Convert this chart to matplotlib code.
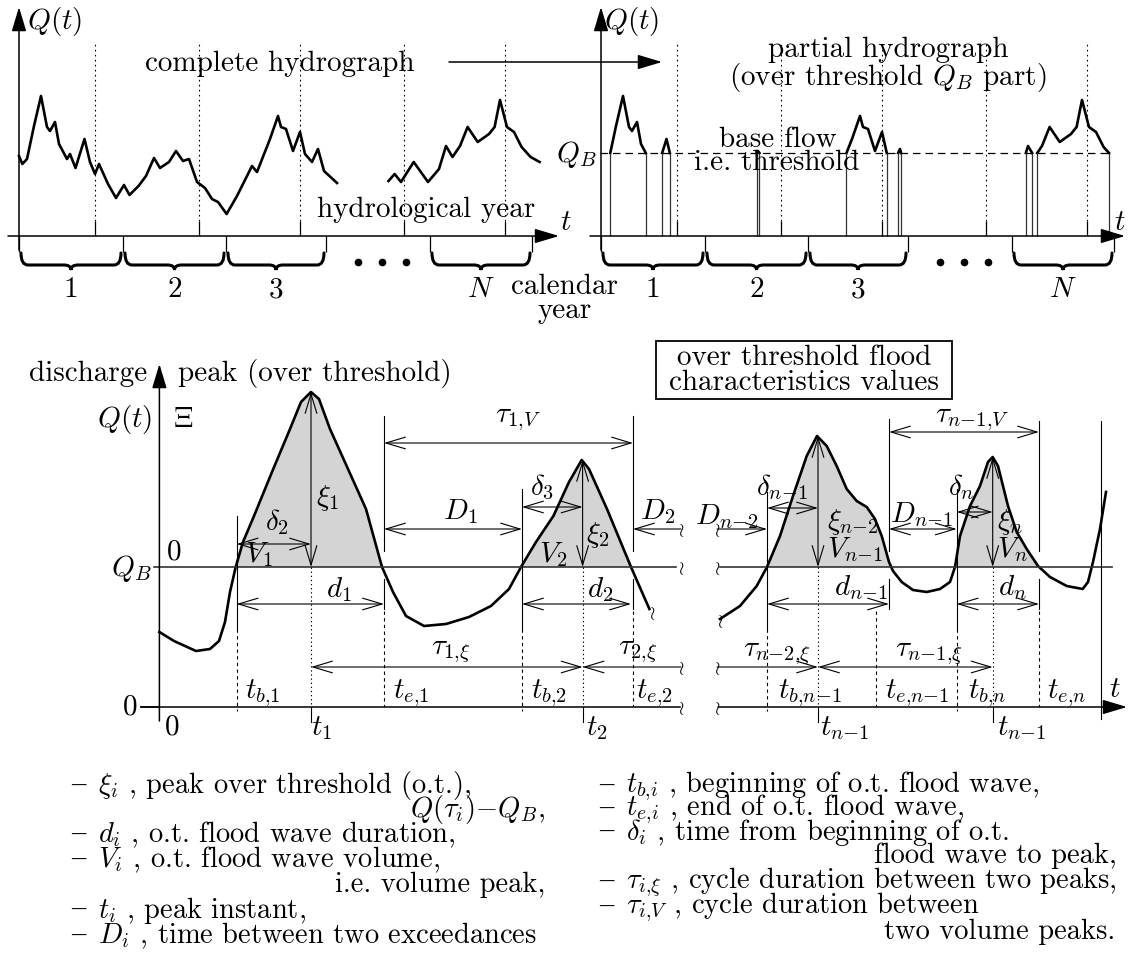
import numpy as np
import matplotlib.pyplot as plt
from matplotlib.path import Path
from matplotlib.patches import PathPatch, Rectangle

plt.rcParams['font.family'] = ['cmr10', 'DejaVu Serif']
plt.rcParams['mathtext.fontset'] = 'cm'
plt.rcParams['axes.unicode_minus'] = False

# complete hydrograph (top panels), two recorded stretches: time, discharge
hyd1_t = [0, 3.3, 8, 15, 22, 28, 31, 36, 40, 48, 51, 56.5, 65.5, 71, 76, 80, 89, 97, 105, 110.5,
          119.5, 127, 135, 141, 150, 157, 164, 170, 178, 186, 193, 199, 207.6, 218, 233, 238, 251,
          259, 262, 267, 274, 281, 286, 293, 299, 305, 318]
hyd1_q = [80, 72, 77, 110, 140, 109, 105, 114, 92, 77, 82, 68, 97, 74, 62, 72, 52, 38, 51, 41,
          50, 60, 78, 68, 74, 85, 75, 77, 54, 48, 37, 34, 22, 40, 70, 64, 97,
          120, 109, 107, 85, 104, 82, 74, 87, 65, 53]
hyd2_t = [369.5, 375.6, 382, 394.7, 409, 420, 427, 433.5, 441, 448.6, 458.7, 470, 475.6, 481,
          488, 495, 502.6, 511.6, 520.6]
hyd2_q = [55, 62, 54, 74, 54, 67, 90, 79, 90, 109, 94, 102, 109, 136, 109, 104, 89, 79, 74]
q_base_top = 83

hydro_year_t = [76, 180, 281, 385, 486]
calendar_year_t = [0, 104, 207, 307, 411, 513]
year_labels = ['1', '2', '3', '$N$']
year_slot = [0, 1, 2, 4]
dots_t = [339, 363, 387]

# detailed flood waves (bottom panel): time, discharge
wave1_t = [0, 14.6, 36.6, 50.6, 59.6, 65.6, 70.6, 76.3, 83.6, 94.6, 112.6, 130.6, 141.6, 151.6,
           159.6, 170.6, 188.6, 206.6, 222.6, 233.6, 246.6, 264.6, 286.6, 309.6, 331.6, 349.6,
           361.6, 376.6, 394, 409.6, 422.3, 429.6, 447.6, 471.6, 481.2, 490]
wave1_q = [75, 66, 56, 58, 66, 85, 115, 140, 165, 191, 235, 278, 305, 315,
           308, 278, 238, 198, 140, 115, 91, 81, 83, 90, 101, 118,
           140, 165, 191, 225, 247, 238, 198, 140, 118, 98]
wave2_t = [560.6, 580.6, 597.3, 607.6, 620.6, 633.6, 647.3, 657.6, 667.3, 677.3, 687.3, 697.3,
           707.3, 715.6, 722.3, 729.6, 733.6, 742.3, 753.6, 767.3, 780.6, 790.6, 795.6, 800.6,
           810.6, 820.6, 828.6, 833.3, 838.6, 848.6, 857.3, 867.3, 878.6, 890.6, 907.3, 923.3,
           928.6, 933.6, 940.6, 946.6]
wave2_q = [88, 101, 121, 140, 171, 211, 251, 271, 261, 241, 218, 206,
           200, 188, 171, 145, 136, 125, 117, 115, 118, 125, 140, 171,
           201, 221, 245, 250, 241, 201, 175, 158, 141, 130, 121, 118,
           125, 145, 178, 215]
q_base = 140
last_wave_end = 900  # shading stops after the n-th wave

FS = 21
LW_CURVE = 1.9
LW_THIN = 0.8

fig = plt.figure(figsize=(11.28, 9.78), dpi=100)
ax_tl = fig.add_axes([0, 0, 1, 1], label='tl')
ax_tr = fig.add_axes([0, 0, 1, 1], label='tr')
ax_b = fig.add_axes([0, 0, 1, 1], label='b')
ax = fig.add_axes([0, 0, 1, 1], label='overlay')
ax.set_xlim(0, 1128)
ax.set_ylim(978, 0)
for a, (x0, y0) in zip((ax_tl, ax_tr, ax_b), ((19, 237), (601, 237), (159.4, 708))):
    a.set_xlim(-x0, 1128 - x0)
    a.set_ylim(y0 - 978, y0)
for a in (ax_tl, ax_tr, ax_b, ax):
    a.axis('off')
    a.patch.set_alpha(0)

filled = dict(arrowstyle='-|>,head_length=1.5,head_width=0.45', mutation_scale=10,
              lw=1.1, color='k', shrinkA=0, shrinkB=0)


def open_arrow(a, x0, y0, x1, y1, style='<->'):
    a.annotate('', xy=(x1, y1), xytext=(x0, y0),
               arrowprops=dict(arrowstyle=style + ',head_length=1.4,head_width=0.42',
                               mutation_scale=10, lw=LW_THIN, color='k',
                               shrinkA=0, shrinkB=0))


def brace_patch(x0, x1, y, hm=-12, h=-17, r=7):
    xm = (x0 + x1) / 2
    verts = [(x0, y), (x0, y + hm), (x0 + r, y + hm), (xm - r, y + hm), (xm, y + hm),
             (xm, y + h), (xm, y + hm), (xm + r, y + hm), (x1 - r, y + hm), (x1, y + hm),
             (x1, y)]
    codes = [Path.MOVETO, Path.CURVE3, Path.CURVE3, Path.LINETO, Path.CURVE3, Path.CURVE3,
             Path.CURVE3, Path.CURVE3, Path.LINETO, Path.CURVE3, Path.CURVE3]
    return PathPatch(Path(verts, codes), fill=False, lw=2.2, color='k', capstyle='round')


def over_threshold(t, q, thr):
    pieces, cur = [], []
    for i in range(len(t)):
        if q[i] > thr:
            if not cur and i > 0:
                f = (thr - q[i - 1]) / (q[i] - q[i - 1])
                cur.append((t[i - 1] + f * (t[i] - t[i - 1]), thr))
            cur.append((t[i], q[i]))
        elif cur:
            f = (thr - q[i - 1]) / (q[i] - q[i - 1])
            cur.append((t[i - 1] + f * (t[i] - t[i - 1]), thr))
            pieces.append(np.array(cur))
            cur = []
    if cur:
        pieces.append(np.array(cur))
    return pieces


# ---- top panels: axes, year ticks, braces
for a, xend in ((ax_tl, 540), (ax_tr, 524)):
    a.annotate('', xy=(0, 229), xytext=(0, -14), arrowprops=filled)
    a.annotate('', xy=(xend, 0), xytext=(-11, 0), arrowprops=filled)
    a.vlines(calendar_year_t, -16, 0, color='k', lw=0.9)
    a.vlines(hydro_year_t, 15, 194, color='k', lw=0.8, linestyles=(0, (1.5, 3)))
    a.vlines(hydro_year_t, 0, 15, color='k', lw=0.9)
    for i, lab in zip(year_slot, year_labels):
        a.add_patch(brace_patch(calendar_year_t[i] + 2, calendar_year_t[i + 1] - 2, -17))
        a.text((calendar_year_t[i] + calendar_year_t[i + 1]) / 2, -53, lab,
               ha='center', va='center', fontsize=FS)
    a.plot(dots_t, [-26] * 3, 'o', color='k', ms=4.5)

ax_tl.plot(hyd1_t, hyd1_q, color='k', lw=LW_CURVE, solid_joinstyle='round')
ax_tl.plot(hyd2_t, hyd2_q, color='k', lw=LW_CURVE, solid_joinstyle='round')

ax_tr.plot([-1, 510], [q_base_top] * 2, color='k', lw=0.9, dashes=(6, 4))
for t, q in ((hyd1_t, hyd1_q), (hyd2_t, hyd2_q)):
    for p in over_threshold(t, q, q_base_top):
        ax_tr.plot(p[:, 0], p[:, 1], color='k', lw=LW_CURVE, solid_joinstyle='round')
        ax_tr.vlines([p[0, 0], p[-1, 0]], 0, q_base_top, color='#333333', lw=0.9)

ax.text(27, 22, '$Q(t)$', ha='left', va='center', fontsize=FS)
ax.text(604, 22, '$Q(t)$', ha='left', va='center', fontsize=FS)
ax.text(566, 223, '$t$', ha='center', va='center', fontsize=FS)
ax.text(1120, 223, '$t$', ha='center', va='center', fontsize=FS)
ax.text(145, 64, 'complete hydrograph', ha='left', va='center', fontsize=FS)
ax.annotate('', xy=(662, 63), xytext=(449, 63), arrowprops=filled)
ax.text(317, 210, 'hydrological year', ha='left', va='center', fontsize=FS)
ax.text(565, 287, 'calendar', ha='center', va='center', fontsize=FS)
ax.text(565, 311, 'year', ha='center', va='center', fontsize=FS)
ax.text(597, 155, '$Q_B$', ha='right', va='center', fontsize=FS)
ax.text(888, 50, 'partial hydrograph', ha='center', va='center', fontsize=FS)
ax.text(888, 78, '(over threshold $Q_B$ part)', ha='center', va='center', fontsize=FS)
ax.text(778, 140, 'base flow', ha='center', va='center', fontsize=FS)
ax.text(777, 163, 'i.e. threshold', ha='center', va='center', fontsize=FS)

# ---- bottom panel
w1t, w1q = np.array(wave1_t), np.array(wave1_q)
w2t, w2q = np.array(wave2_t), np.array(wave2_q)
ax_b.fill_between(w1t, w1q, q_base, where=w1q >= q_base, interpolate=True,
                  color='#d4d4d4', lw=0)
ax_b.fill_between(w2t, w2q, q_base, where=(w2q >= q_base) & (w2t < last_wave_end),
                  interpolate=True, color='#d4d4d4', lw=0)
ax_b.plot(wave1_t, wave1_q, color='k', lw=LW_CURVE, solid_joinstyle='round')
ax_b.plot(wave2_t, wave2_q, color='k', lw=LW_CURVE, solid_joinstyle='round')
ax_b.plot([-5, 517], [q_base] * 2, color='#333333', lw=1.2)
ax_b.plot([561, 952.6], [q_base] * 2, color='#333333', lw=1.2)
ax_b.plot([-18, 521], [0, 0], color='k', lw=1.1)
ax_b.annotate('', xy=(0, 343), xytext=(0, -14), arrowprops=filled)
ax_b.annotate('', xy=(967.6, 0), xytext=(558.6, 0), arrowprops=filled)

# break marks
for y in (530, 568, 668, 708):
    ax.text(681, y, r'$\wr$', ha='center', va='center', fontsize=14)
    ax.text(717, y, r'$\wr$', ha='center', va='center', fontsize=14)
ax.text(652, 613, r'$\wr$', ha='center', va='center', fontsize=14)
ax.text(720, 621, r'$\wr$', ha='center', va='center', fontsize=14)

dash = (0, (3, 3))
dot = (0, (1.2, 2.5))


def vseg(x, y0, y1, ls='-', lw=LW_THIN):
    ax.plot([x, x], [y0, y1], color='k', lw=lw, linestyle=ls)


# beginnings / ends / peaks
for x, top in ((236.6, 517), (522, 490), (767, 493), (956.7, 490)):
    vseg(x, top, 630)
    vseg(x, 630, 712, dash)
for x in (311, 582.6, 818, 992.7):
    vseg(x, 568, 708, dot)
    vseg(x, 708, 723)
for x, top, xd in ((384, 417, 384), (633, 417, 633), (889, 420, 876), (1039, 422, 1039)):
    vseg(x, top, 552)
    vseg(x, 580, 610)
    vseg(xd, 612, 708, dash)
vseg(1101, 422, 720)

arrows = [
    (384, 444, 633, 444, '<->'), (384, 530, 522, 530, '<->'), (522, 508, 582.6, 508, '<->'),
    (633, 530, 681, 530, '<-'), (236.6, 545, 311, 545, '<->'), (311, 393, 311, 568, '<->'),
    (582.6, 461, 582.6, 568, '<->'), (236.6, 605, 384, 605, '<->'), (522, 605, 631, 605, '<->'),
    (311, 668, 582.6, 668, '<->'), (582.6, 668, 681, 668, '<-'),
    (717, 530, 767, 530, '->'), (767, 509, 818, 509, '<->'), (818, 437, 818, 568, '<->'),
    (889, 530, 956.7, 530, '<->'), (956.7, 513, 992.7, 513, '<->'),
    (992.7, 458, 992.7, 568, '<->'), (767, 605, 889, 605, '<->'),
    (956.7, 605, 1039, 605, '<->'), (717, 668, 818, 668, '->'),
    (818, 668, 992.7, 668, '<->'), (889, 433, 1039, 433, '<->'),
]
for x0, y0, x1, y1, st in arrows:
    open_arrow(ax, x0, y0, x1, y1, st)

labels = [
    (518, 420, r'$\tau_{1{,}V}$'), (460, 512, r'$D_1$'), (542, 487, r'$\delta_3$'),
    (658, 512, r'$D_2$'), (277, 522, r'$\delta_2$'), (259, 555, r'$V_1$'),
    (328, 498, r'$\xi_1$'), (553, 555, r'$V_2$'), (598, 535, r'$\xi_2$'),
    (339, 590, r'$d_1$'), (600, 590, r'$d_2$'), (451, 652, r'$\tau_{1{,}\xi}$'),
    (638, 652, r'$\tau_{2{,}\xi}$'), (263, 693, r'$t_{b{,}1}$'), (411, 693, r'$t_{e{,}1}$'),
    (549, 693, r'$t_{b{,}2}$'), (654, 693, r'$t_{e{,}2}$'), (322, 728, r'$t_1$'),
    (597, 728, r'$t_2$'),
    (727, 517, r'$D_{n{-}2}$'), (782, 487, r'$\delta_{n{-}1}$'), (853, 522, r'$\xi_{n{-}2}$'),
    (855, 550, r'$V_{n{-}1}$'), (921, 515, r'$D_{n{-}1}$'), (961, 487, r'$\delta_n$'),
    (1010, 522, r'$\xi_n$'), (1012, 550, r'$V_n$'), (861, 588, r'$d_{n{-}1}$'),
    (1012, 588, r'$d_n$'), (777, 654, r'$\tau_{n{-}2{,}\xi}$'),
    (929, 654, r'$\tau_{n{-}1{,}\xi}$'), (972, 420, r'$\tau_{n{-}1{,}V}$'),
    (810, 693, r'$t_{b{,}n{-}1}$'), (917, 693, r'$t_{e{,}n{-}1}$'),
    (987, 693, r'$t_{b{,}n}$'), (1067, 693, r'$t_{e{,}n}$'), (845, 728, r'$t_{n{-}1}$'),
    (1022, 728, r'$t_{n{-}1}$'), (1115, 690, r'$t$'),
]
for x, y, s in labels:
    ax.text(x, y, s, ha='center', va='center', fontsize=FS)

ax.text(147, 374, 'discharge', ha='right', va='center', fontsize=FS)
ax.text(178, 374, 'peak (over threshold)', ha='left', va='center', fontsize=FS)
ax.text(152, 420, '$Q(t)$', ha='right', va='center', fontsize=FS)
ax.text(183, 420, r'$\Xi$', ha='center', va='center', fontsize=FS)
ax.text(152, 568, '$Q_B$', ha='right', va='center', fontsize=FS)
ax.text(174, 552, '0', ha='center', va='center', fontsize=FS)
ax.text(130, 707, '0', ha='center', va='center', fontsize=FS)
ax.text(172, 727, '0', ha='center', va='center', fontsize=FS)
ax.plot([141, 159.4], [708, 708], color='k', lw=1.1)

ax.add_patch(Rectangle((656, 342), 296, 58, fill=False, lw=1.3, color='k'))
ax.text(804, 358, 'over threshold flood', ha='center', va='center', fontsize=FS)
ax.text(804, 383, 'characteristics values', ha='center', va='center', fontsize=FS)

# ---- legend of symbols
LF = 20.5
legend_items = [
    (786, 98, 'left', '$\\xi_i$ , peak over threshold (o.t.),', True),
    (810, 545, 'right', '$Q(\\tau_i){-}Q_B$,', False),
    (835, 98, 'left', '$d_i$ , o.t. flood wave duration,', True),
    (860, 98, 'left', '$V_i$ , o.t. flood wave volume,', True),
    (885, 545, 'right', 'i.e. volume peak,', False),
    (910, 98, 'left', '$t_i$ , peak instant,', True),
    (936, 98, 'left', '$D_i$ , time between two exceedances', True),
    (786, 626, 'left', '$t_{b{,}i}$ , beginning of o.t. flood wave,', True),
    (809, 626, 'left', '$t_{e{,}i}$ , end of o.t. flood wave,', True),
    (832, 626, 'left', '$\\delta_i$ , time from beginning of o.t.', True),
    (856, 1117, 'right', 'flood wave to peak,', False),
    (882, 626, 'left', '$\\tau_{i{,}\\xi}$ , cycle duration between two peaks,', True),
    (907, 626, 'left', '$\\tau_{i{,}V}$ , cycle duration between', True),
    (932, 1115, 'right', 'two volume peaks.', False),
]
for y, x, ha, s, bullet in legend_items:
    ax.text(x, y, s, ha=ha, va='center', fontsize=LF)
    if bullet:
        ax.text(x - 27, y - 1, '–', ha='left', va='center', fontsize=LF,
                family='Liberation Serif')

fig.savefig('out.png', dpi=100, facecolor='white')
